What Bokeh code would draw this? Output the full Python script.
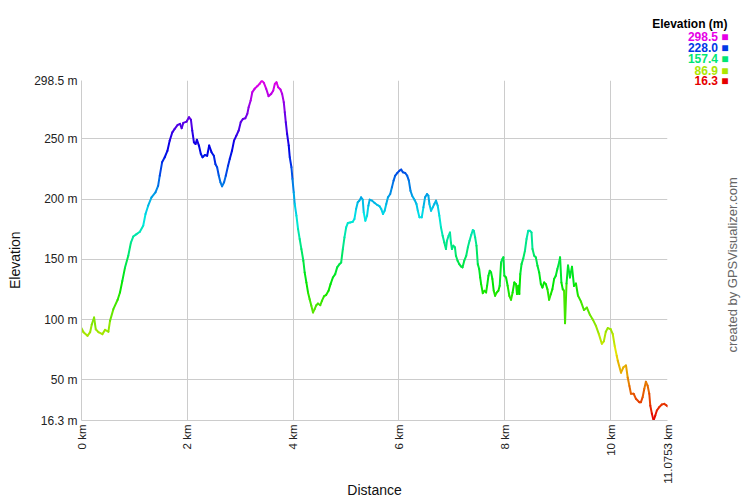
import math
import colorsys
from bokeh.plotting import figure
from bokeh.models import Range1d, ColumnDataSource, Title, LinearAxis, FixedTicker
from bokeh.transform import linear_cmap
from bokeh.embed import file_html
from bokeh.resources import INLINE

# ---------------- data ----------------
distance_km = [
    0.0, 0.038, 0.113, 0.163, 0.194, 0.238, 0.27, 0.32, 0.395, 0.445, 0.508, 0.539, 0.602, 0.683,
    0.727, 0.771, 0.821, 0.884, 0.934, 0.978, 1.04, 1.103, 1.166, 1.21, 1.26, 1.323, 1.398, 1.448,
    1.479, 1.523, 1.573, 1.623, 1.667, 1.717, 1.761,
    1.818, 1.862, 1.893, 1.924, 1.987, 2.031, 2.068, 2.093, 2.125, 2.156, 2.181, 2.219, 2.256,
    2.288, 2.332, 2.375, 2.413, 2.457, 2.501, 2.532, 2.563, 2.595, 2.626, 2.657, 2.695, 2.727,
    2.77, 2.802, 2.845, 2.883, 2.927, 2.971, 3.009, 3.052, 3.096, 3.134, 3.159, 3.197, 3.228,
    3.272, 3.322, 3.366, 3.409, 3.447, 3.491, 3.535, 3.585,
    3.623, 3.654, 3.686, 3.717, 3.761, 3.792, 3.823, 3.842, 3.861, 3.886, 3.917, 3.936, 3.968,
    3.987, 4.011, 4.03, 4.062, 4.093, 4.124, 4.156, 4.193, 4.218, 4.25, 4.281, 4.312, 4.344,
    4.375, 4.406, 4.438, 4.469, 4.513, 4.544, 4.582, 4.625, 4.669, 4.707, 4.751, 4.795, 4.832,
    4.876, 4.908, 4.939, 4.97, 5.002, 5.033, 5.077, 5.127, 5.158, 5.19, 5.221, 5.252, 5.284,
    5.315, 5.334, 5.365, 5.397, 5.422,
    5.447, 5.491, 5.541, 5.591, 5.635, 5.666, 5.698, 5.729, 5.76, 5.792, 5.835, 5.867, 5.898,
    5.929, 5.967, 6.011, 6.042, 6.074, 6.118, 6.155, 6.187, 6.218, 6.249, 6.293, 6.331, 6.356,
    6.387, 6.431, 6.462, 6.493, 6.531, 6.556, 6.575, 6.606, 6.638, 6.669, 6.7, 6.732, 6.763,
    6.794, 6.826, 6.857, 6.888, 6.907, 6.939, 6.964, 6.982, 7.001, 7.027, 7.058, 7.077, 7.108,
    7.14, 7.171, 7.202, 7.234,
    7.271, 7.302, 7.334, 7.365, 7.396, 7.415, 7.44, 7.465, 7.49, 7.516, 7.535, 7.553, 7.584,
    7.616, 7.647, 7.666, 7.691, 7.716, 7.741, 7.766, 7.791, 7.817, 7.847, 7.879, 7.904, 7.93,
    7.954, 7.973, 7.992, 8.024, 8.054, 8.086, 8.118, 8.148, 8.18, 8.212, 8.231, 8.255, 8.274,
    8.293, 8.317, 8.349, 8.381, 8.411, 8.443, 8.475, 8.505, 8.524, 8.556, 8.587, 8.618, 8.65,
    8.682, 8.712, 8.744, 8.776, 8.806, 8.838, 8.87, 8.9, 8.932, 8.964, 8.994, 9.026, 9.045,
    9.07, 9.095, 9.12,
    9.139, 9.167, 9.195, 9.232, 9.27, 9.308, 9.345, 9.383, 9.44, 9.496, 9.552, 9.609, 9.665,
    9.721, 9.778, 9.834, 9.872, 9.909, 9.947, 10.003, 10.041, 10.078, 10.116, 10.135, 10.197,
    10.242, 10.291, 10.323, 10.355, 10.385, 10.436, 10.479, 10.543, 10.573, 10.605, 10.637,
    10.667, 10.699, 10.731, 10.75, 10.78, 10.812, 10.844, 10.874, 10.919, 10.968, 11.013,
    11.062, 11.0753,
]

elevation_m = [
    93, 89.6, 86.6, 89.6, 96, 101.8, 92, 89.6, 88, 91.5, 90, 99, 108.7, 116.5,
    122.6, 132, 143, 153, 164, 169, 171, 173, 178, 187.7, 194.6, 201.5, 205.7, 211,
    219.5, 230.6, 234.8, 240, 248.6, 255.5, 258.3,
    261.6, 262.5, 258.9, 263.3, 264.4, 268, 266, 257, 247.2, 245.8, 249.4, 244.5, 237.5,
    234.8, 236.7, 236, 244.5, 239, 236, 229, 226.5, 219.5, 214, 210.7, 214, 219.5,
    227.8, 233.4, 240.3, 248.6, 252.8, 257, 263.9, 266.6, 267.2, 270.8, 276.3, 281.9, 288.8,
    291.6, 293.8, 295.7, 298.5, 296.5, 291.6, 285.5, 287.4,
    290, 295.7, 297, 292.9, 291, 287.4, 280.5, 272.2, 263.9, 254.2, 244.5, 234.8, 226.5,
    216.8, 205.7, 196, 186.3, 175.2, 166.9, 158.6, 148.9, 139.2, 130.9, 122.6, 117, 111.5,
    106, 108.7, 112, 113.4, 112, 115.6, 119.3, 120.6, 124, 129.5, 135, 137.8, 143.4,
    146.1, 147.5, 158.6, 168.3, 176.6, 180.2, 180.7, 181.3, 183.5, 191.8, 197.4, 198.8, 201.5,
    199.6, 189, 182.1, 186.3, 194.6,
    199.6, 198.8, 196.8, 195.2, 194, 191.8, 187.7, 190.4, 196, 201.5, 204.3, 209.8, 215.4,
    219.5, 221.7, 223.7, 224.5, 222.3, 221.7, 219.5, 215.4, 207, 202.9, 199.6, 196, 190.4,
    184.9, 184.9, 193.2, 201.5, 204.3, 202.9, 196, 190.4, 193.2, 196, 198.8, 194.6, 186.3,
    176.6, 169.7, 164.1, 158.6, 165.5, 169.7, 172.4, 164.1, 158.6, 161.4, 160, 153, 148.9,
    146.1, 144.2, 143.4, 148.9,
    153, 160, 165.5, 170.2, 174.3, 173.8, 168.3, 161.4, 146.1, 142, 135, 129.5, 122,
    124, 122.6, 128.1, 136.4, 140.6, 139.2, 133.7, 124, 119.8, 122.6, 124, 128.1, 147.5,
    150.3, 151.7, 136.4, 135, 128.1, 119.8, 116.5, 122.6, 130.9, 129.5, 121.2, 128.1, 121.2,
    137.8, 146.1, 150.8, 157.2, 166.9, 173.8, 173.8, 172.4, 158.6, 153, 151.7, 144.7, 139.2,
    129.5, 126.7, 130.9, 129.5, 125.3, 116.5, 121.2, 125.3, 133.7, 136.4, 142, 147.5, 151.7,
    130.9, 125.3, 124,
    97, 130, 145, 135, 144, 128, 130, 120, 115, 108, 110, 104, 100,
    95, 88, 80, 82, 90, 93, 92, 88, 78, 70, 66, 56,
    60.5, 62, 52, 45, 38.5, 38.5, 34.3, 31.5, 31.5, 35.6, 42.6,
    48.5, 45.3, 38.5, 28.7, 22, 16.3, 20.4, 24.6, 27.4, 29.6, 30.1,
    28.7, 28,
]

x_ticks = [0, 2, 4, 6, 8, 10, 11.0753]
x_tick_labels = ["0 km", "2 km", "4 km", "6 km", "8 km", "10 km", "11.0753 km"]
y_ticks = [16.3, 50, 100, 150, 200, 250, 298.5]
y_tick_labels = ["16.3 m", "50 m", "100 m", "150 m", "200 m", "250 m", "298.5 m"]
legend_levels = [298.5, 228.0, 157.4, 86.9, 16.3]
legend_labels = ["298.5", "228.0", "157.4", "86.9", "16.3"]

E_MIN, E_MAX = 16.3, 298.5
D_MAX = 11.0753

FONT = "Liberation Sans"


def hue_color(e):
    t = (e - E_MIN) / (E_MAX - E_MIN)
    r, g, b = colorsys.hsv_to_rgb(t * 300.0 / 360.0, 1.0, 0.9)
    return "#%02x%02x%02x" % (int(round(r * 255)), int(round(g * 255)), int(round(b * 255)))


palette = [hue_color(E_MIN + (E_MAX - E_MIN) * i / 255.0) for i in range(256)]

# ---------------- figure ----------------
p = figure(width=750, height=500, output_backend="svg", toolbar_location=None,
           x_range=Range1d(0, D_MAX), y_range=Range1d(E_MIN, E_MAX),
           min_border_left=81, min_border_right=80, min_border_top=80, min_border_bottom=80)
p.outline_line_color = None
p.background_fill_color = "white"
p.border_fill_color = "white"

src = ColumnDataSource(dict(
    x0=distance_km[:-1], x1=distance_km[1:],
    y0=elevation_m[:-1], y1=elevation_m[1:],
    emid=[(a + b) / 2.0 for a, b in zip(elevation_m[:-1], elevation_m[1:])],
))
p.segment(x0="x0", y0="y0", x1="x1", y1="y1", source=src, line_width=2, line_cap="round",
          line_color=linear_cmap("emid", palette, E_MIN, E_MAX))

xax = p.xaxis[0]
yax = p.yaxis[0]
xax.ticker = x_ticks
xax.major_label_overrides = {t: l for t, l in zip(x_ticks, x_tick_labels)}
yax.ticker = y_ticks
yax.major_label_overrides = {t: l for t, l in zip(y_ticks, y_tick_labels)}

for ax in (xax, yax):
    ax.axis_line_color = "#cccccc"
    ax.major_tick_line_color = None
    ax.minor_tick_line_color = None
    ax.major_tick_out = 0
    ax.major_tick_in = 0
    ax.major_label_standoff = 4
    ax.major_label_text_font = FONT
    ax.major_label_text_font_size = "12px"
    ax.major_label_text_color = "#222222"
    ax.axis_label_text_font = FONT
    ax.axis_label_text_font_size = "14px"
    ax.axis_label_text_font_style = "normal"
    ax.axis_label_text_color = "#111111"
xax.major_label_orientation = math.pi / 2
xax.major_label_text_font_size = "11.5px"
xax.axis_label = "Distance"
xax.axis_label_standoff = -5
# trailing no-break spaces nudge the centred title slightly downward
yax.axis_label = "Elevation" + "\u00a0" * 5
yax.axis_label_standoff = 8

p.grid.grid_line_color = "#cccccc"
p.grid.grid_line_width = 1

# watermark: single tick label of an extra right axis (pixel range of the frame)
p.extra_y_ranges = {"px": Range1d(start=420, end=80)}
wm_anchor = 352
wm = LinearAxis(y_range_name="px", ticker=FixedTicker(ticks=[wm_anchor]),
                major_label_overrides={wm_anchor: "created by GPSVisualizer.com"},
                major_label_orientation=math.pi / 2, major_label_standoff=65,
                major_tick_out=0, major_tick_in=0, major_tick_line_color=None,
                minor_tick_line_color=None, axis_line_color=None,
                major_label_text_font=FONT, major_label_text_font_size="13px",
                major_label_text_color="#666666")
p.add_layout(wm, "right")

# legend: titles stacked above the frame (first added = closest to the frame)
row_standoff = [-12.9, 3.3, -13.1, 3.5, -16.5]   # 298.5 ... 16.3
for lv, lt, so in reversed(list(zip(legend_levels, legend_labels, row_standoff))):
    p.add_layout(Title(text=lt + " \u25a0", align="right", vertical_align="middle",
                       offset=-61, standoff=so,
                       text_font=FONT, text_font_size="12px", text_font_style="bold",
                       text_color=hue_color(lv)), "above")
p.add_layout(Title(text="Elevation (m)", align="right", vertical_align="middle",
                   offset=-60, standoff=6.9,
                   text_font=FONT, text_font_size="12px", text_font_style="bold",
                   text_color="#000000"), "above")

open("out.html", "w").write(file_html(p, INLINE))
